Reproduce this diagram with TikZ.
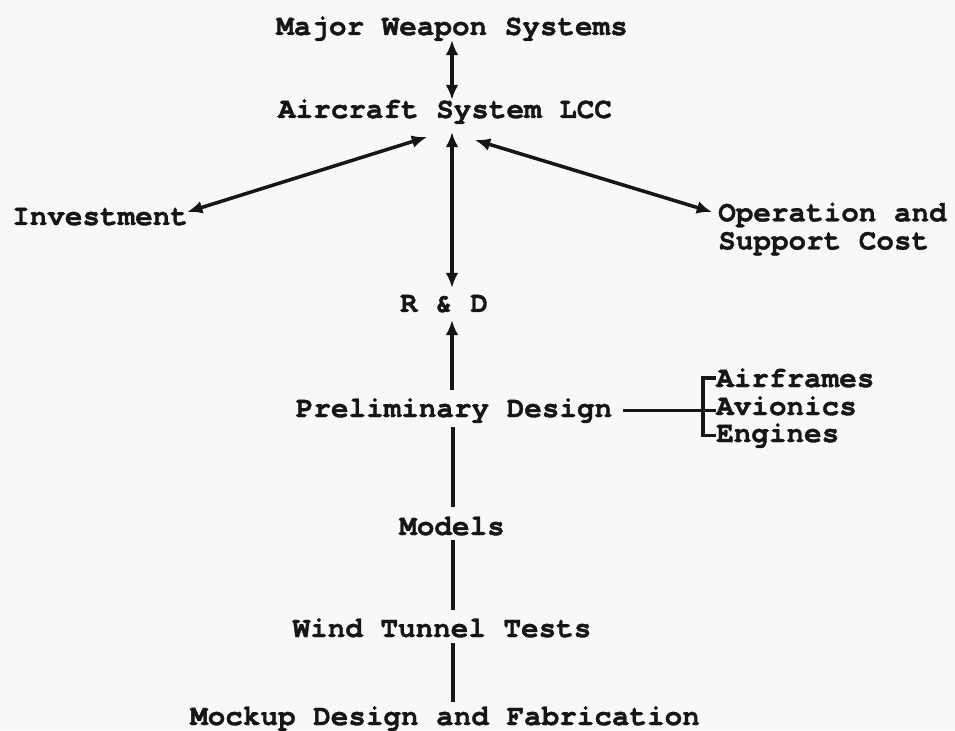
\documentclass[tikz,border=0pt]{standalone}
\usepackage{fontspec}
\usepackage{xcolor}
\usepackage{tikz}
\usetikzlibrary{arrows.meta}
\setmonofont{TeX Gyre Cursor}[BoldFeatures={FakeBold=1.2}]
\definecolor{paper}{RGB}{248,248,246}
\definecolor{ink}{RGB}{22,22,22}

\begin{document}
\begin{tikzpicture}[x=0.03cm, y=-0.03cm,
                    every node/.style={font=\ttfamily\bfseries\fontsize{25}{24}\selectfont, text=ink, inner sep=0pt},
                    lbl/.style={anchor=base},
                    link/.style={draw=ink, line width=3pt},
                    dbl/.style={link, {Latex[length=13pt,width=11pt]}-{Latex[length=13pt,width=11pt]}},
                    up/.style={link, -{Latex[length=13pt,width=11pt]}}]
  \fill[paper] (0,0) rectangle (955,730);

  \node[lbl] (mws) at (452,35) {Major Weapon Systems};
  \node[lbl] (asl) at (445,118) {Aircraft System LCC};
  \node[lbl, anchor=base west] (inv) at (12,225) {Investment};
  \node[anchor=west, align=left] (ops) at (718,229) {Operation and\\Support Cost};
  \node[lbl] (rd) at (444,312) {R \& D};
  \node[lbl] (pd) at (454,417) {Preliminary Design};
  \node[lbl, anchor=base west] (air) at (716,387) {Airframes};
  \node[lbl, anchor=base west] (avi) at (716,415) {Avionics};
  \node[lbl, anchor=base west] (eng) at (716,442) {Engines};
  \node[lbl] (mod) at (452,535) {Models};
  \node[lbl] (wtt) at (442,637) {Wind Tunnel Tests};
  \node[lbl] (mck) at (445,725) {Mockup Design and Fabrication};

  \draw[dbl] ([shift={(0,5)}]mws.base) -- ([shift={(7,-18)}]asl.base);
  \draw[dbl] ([shift={(7,14)}]asl.base) -- ([shift={(8,-24)}]rd.base);
  \draw[dbl] ([shift={(-1,-13)}]inv.base east) -- ([shift={(-18,19)}]asl.base);
  \draw[dbl] ([shift={(30,22)}]asl.base) -- ([shift={(-6,-17)}]ops.west);
  \draw[up] ([shift={(-2,-27)}]pd.base) -- ([shift={(8,8)}]rd.base);
  \draw[link] ([shift={(-1,10)}]pd.base) -- ([shift={(1,-28)}]mod.base);
  \draw[link] ([shift={(1,5)}]mod.base) -- ([shift={(11,-27)}]wtt.base);
  \draw[link] ([shift={(11,6)}]wtt.base) -- ([shift={(8,-23)}]mck.base);
  \draw[link] ([shift={(11,0)}]pd.east) -- (pd.east -| avi.west);
  \draw[link] (air.west) -- ++(-13,0) |- (eng.west);
\end{tikzpicture}
\end{document}
